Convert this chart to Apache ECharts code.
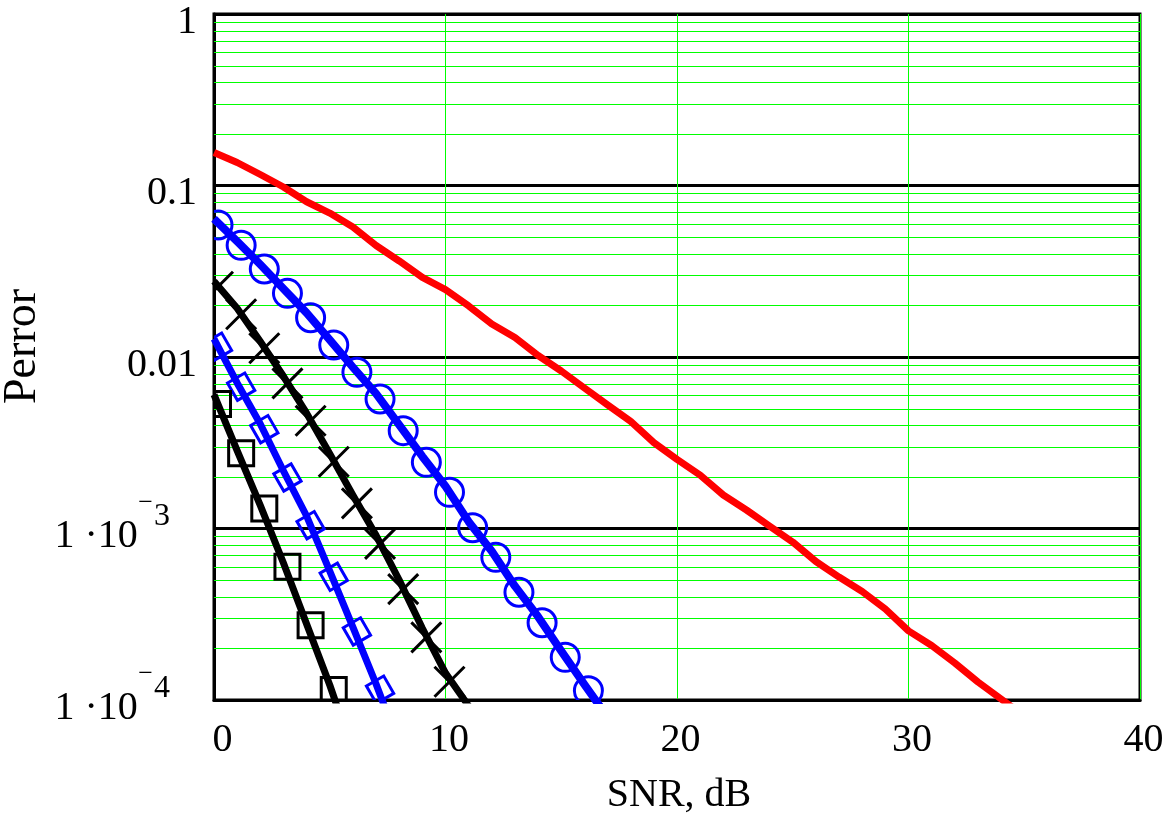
<!DOCTYPE html>
<html>
<head>
<meta charset="utf-8">
<script src="https://cdn.jsdelivr.net/npm/echarts@6/dist/echarts.min.js"></script>
<style>
  html, body { margin: 0; padding: 0; background: #ffffff; }
  #chart { width: 1170px; height: 821px; }
</style>
</head>
<body>
<div id="chart"></div>
<script>
// ---- data -------------------------------------------------------------
// Red curve (no markers)
const snrRed = [0, 1, 2, 3, 4, 5, 6, 7, 8, 9, 10, 11, 12, 13, 14, 15, 16, 17, 18, 19, 20,
  21, 22, 23, 24, 25, 26, 27, 28, 29, 30, 31, 32, 33, 34, 35];
const perrRed = [0.1558, 0.1362, 0.1159, 0.0980, 0.0804, 0.0691, 0.0573, 0.0447, 0.0363, 0.0291,
  0.0247, 0.01984, 0.01558, 0.01299, 0.01020, 0.00829, 0.00660, 0.00526, 0.00421, 0.00317,
  0.00253, 0.00205, 0.001568, 0.001282, 0.001034, 0.000834, 0.000642, 0.000521, 0.000429,
  0.000339, 0.000253, 0.000208, 0.0001643, 0.0001274, 0.0001013, 0.0000807];

// Blue curve with circles
const snrCircleLine = [0, 1, 2, 3, 4, 5, 6, 7, 8, 9, 10, 11, 12, 13, 14, 15, 16, 17];
const perrCircleLine = [0.0638, 0.0473, 0.0346, 0.0250, 0.01808, 0.01258, 0.00871, 0.00612, 0.00402,
  0.00263, 0.001764, 0.001096, 0.000736, 0.000461, 0.000306, 0.000193, 0.0001231, 0.0000796];
const snrCircle = [0, 1, 2, 3, 4, 5, 6, 7, 8, 9, 10, 11, 12, 13, 14, 15, 16];
const perrCircle = [0.0589, 0.0448, 0.0326, 0.0235, 0.01695, 0.01175, 0.00814, 0.00569, 0.00372,
  0.00243, 0.001626, 0.001011, 0.000679, 0.000425, 0.000282, 0.0001774, 0.0001133];

// Black curve with crosses
const snrCrossLine = [0, 1, 2, 3, 4, 5, 6, 7, 8, 9, 10, 11];
const perrCrossLine = [0.02763, 0.01923, 0.01230, 0.007718, 0.004702, 0.002730, 0.001562,
  0.000912, 0.000500, 0.000262, 0.0001435, 0.0000923];
const snrCross = [0, 1, 2, 3, 4, 5, 6, 7, 8, 9, 10];
const perrCross = [0.0257, 0.01774, 0.01124, 0.00702, 0.004246, 0.002452, 0.001402, 0.000814,
  0.000443, 0.000232, 0.0001278];

// Blue curve with diamonds
const snrDiamondLine = [0, 1, 2, 3, 4, 5, 6, 7, 8];
const perrDiamondLine = [0.01274, 0.007054, 0.004067, 0.002164, 0.001183, 0.000565, 0.000266,
  0.000124, 0.0000546];
const snrDiamond = [0, 1, 2, 3, 4, 5, 6, 7];
const perrDiamond = [0.01148, 0.006711, 0.003793, 0.001983, 0.001045, 0.000523, 0.000251, 0.0001148];

// Black curve with squares
const snrSquareLine = [0, 1, 2, 3, 4, 5, 6];
const perrSquareLine = [0.006030, 0.002842, 0.001366, 0.000629, 0.000277, 0.0001223, 0.0000497];
const snrSquare = [0, 1, 2, 3, 4, 5];
const perrSquare = [0.005320, 0.002749, 0.001308, 0.000599, 0.000273, 0.0001144];

// Axis ticks
const xTicks = [0, 10, 20, 30, 40];
const xTickLabels = ['0', '10', '20', '30', '40'];
const yTickExponents = [0, -1, -2, -3, -4];
const yTickLabels = ['1', '0.1', '0.01', '1 ·10^−3', '1 ·10^−4'];
// minor grid: mantissas 2..9 in every decade
const minorMantissas = [2, 3, 4, 5, 6, 7, 8, 9];
const minorDecades = [-4, -3, -2, -1];

// ---- helpers ----------------------------------------------------------
const FONT = '"Liberation Serif", "Times New Roman", serif';
const zip = (xs, ys) => xs.map((x, i) => [x, ys[i]]);
const minorValues = [];
minorDecades.forEach(e => minorMantissas.forEach(m => minorValues.push(m * Math.pow(10, e))));
const xMin = xTicks[0], xMax = xTicks[xTicks.length - 1];
const MARK_SHIFT = 4; // markers sit a few pixels right of their SNR

function lineSeries(xs, ys, color, width) {
  return {
    type: 'line',
    data: zip(xs, ys),
    symbol: 'none', showSymbol: false,
    lineStyle: { color: color, width: width, cap: 'butt', join: 'round' },
    clip: true, silent: true, z: 2
  };
}

// open markers drawn as shapes, clipped to the plot frame
function markerSeries(xs, ys, kind, size, color) {
  return {
    type: 'custom',
    data: zip(xs, ys),
    encode: { x: 0, y: 1 },
    clip: true, silent: true, z: 3,
    renderItem: (params, api) => {
      const p = api.coord([api.value(0), api.value(1)]);
      const cx = p[0] + MARK_SHIFT, cy = p[1], h = size / 2;
      const style = { fill: 'none', stroke: color, lineWidth: 3 };
      if (kind === 'circle') {
        return { type: 'circle', shape: { cx: cx, cy: cy, r: h }, style: style };
      }
      if (kind === 'square') {
        return { type: 'rect', shape: { x: cx - h, y: cy - h, width: size, height: size }, style: style };
      }
      if (kind === 'diamond') {
        return {
          type: 'rect', shape: { x: cx - h, y: cy - h, width: size, height: size },
          rotation: Math.PI / 6, originX: cx, originY: cy, style: style
        };
      }
      return {
        type: 'path',
        shape: { pathData: 'M' + (cx - h) + ',' + (cy - h) + 'L' + (cx + h) + ',' + (cy + h) +
                           'M' + (cx + h) + ',' + (cy - h) + 'L' + (cx - h) + ',' + (cy + h) },
        style: style
      };
    }
  };
}

const chart = echarts.init(document.getElementById('chart'), null, { renderer: 'canvas' });

const option = {
  animation: false,
  backgroundColor: '#ffffff',
  grid: {
    left: 214, right: 30, top: 14, bottom: 121,
    show: true, borderColor: '#000000', borderWidth: 3, backgroundColor: '#ffffff',
    containLabel: false, outerBoundsMode: 'none'
  },
  xAxis: {
    type: 'value', min: xMin, max: xMax, interval: 10, position: 'bottom',
    axisLine: { show: true, onZero: false, lineStyle: { color: '#000000', width: 3 } },
    axisTick: { show: false },
    splitLine: { show: true, lineStyle: { color: '#00ff00', width: 1 } },
    minorSplitLine: { show: false },
    axisLabel: {
      show: true, margin: 20,
      formatter: v => {
        const t = xTickLabels[xTicks.indexOf(Math.round(v))];
        return v === 0 ? '{z|' + t + '}' : '{n|' + t + '}';
      },
      rich: {
        z: { fontSize: 40, lineHeight: 40, fontFamily: FONT, color: '#000', padding: [0, 0, 0, 17] },
        n: { fontSize: 40, lineHeight: 40, fontFamily: FONT, color: '#000', padding: [0, 0, 0, 7] }
      }
    },
    name: 'SNR, dB', nameLocation: 'middle', nameGap: 75, nameMoveOverlap: false,
    nameTextStyle: { fontSize: 40, lineHeight: 40, fontFamily: FONT, color: '#000', padding: [0, 0, 0, 4] }
  },
  yAxis: {
    type: 'log', logBase: 10, min: 0.0001, max: 1, splitNumber: 4, position: 'left',
    axisLine: { show: true, onZero: false, lineStyle: { color: '#000000', width: 3 } },
    axisTick: { show: false },
    splitLine: { show: true, lineStyle: { color: '#000000', width: 3 } },
    minorSplitLine: { show: false },
    axisLabel: {
      show: true, margin: 17, padding: [16, 0, 0, 0],
      formatter: v => {
        const e = Math.round(Math.log10(v));
        const t = yTickLabels[yTickExponents.indexOf(e)];
        if (t.indexOf('^') >= 0) {
          const parts = t.split('^');
          return '{b|' + parts[0] + '}{m|' + parts[1].charAt(0) + '}{s|' + parts[1].slice(1) + '}';
        }
        return '{d|' + t + '}';
      },
      rich: {
        d: { fontSize: 40, lineHeight: 40, fontFamily: FONT, color: '#000' },
        b: { fontSize: 40, lineHeight: 99, fontFamily: FONT, color: '#000' },
        m: { fontSize: 26, verticalAlign: 'top', fontFamily: FONT, color: '#000', padding: [3, 0, 0, 0.5] },
        s: { fontSize: 32, verticalAlign: 'top', fontFamily: FONT, color: '#000', padding: [14, 27, 0, 1] }
      }
    },
    name: 'Perror', nameLocation: 'middle', nameRotate: 90, nameGap: 168, nameMoveOverlap: false,
    nameTextStyle: { fontSize: 46, lineHeight: 46, fontFamily: FONT, color: '#000', padding: [0, 0, 0, 21] }
  },
  series: [
    { // minor horizontal grid lines (2..9 of each decade)
      type: 'custom', silent: true, z: 1, clip: false,
      data: minorValues.map(v => [xMin, v]),
      encode: { x: 0, y: 1 },
      renderItem: (params, api) => {
        const v = api.value(1);
        const p1 = api.coord([xMin, v]);
        const p2 = api.coord([xMax, v]);
        const y = Math.round(p1[1]) + 0.5;
        return {
          type: 'line',
          shape: { x1: p1[0], y1: y, x2: p2[0], y2: y },
          style: { stroke: '#00ff00', lineWidth: 1 }
        };
      }
    },
    lineSeries(snrRed, perrRed, '#ff0000', 7),
    lineSeries(snrCircleLine, perrCircleLine, '#0000ff', 8),
    lineSeries(snrCrossLine, perrCrossLine, '#000000', 7),
    lineSeries(snrDiamondLine, perrDiamondLine, '#0000ff', 7),
    lineSeries(snrSquareLine, perrSquareLine, '#000000', 7),
    markerSeries(snrCircle, perrCircle, 'circle', 28, '#0000ff'),
    markerSeries(snrCross, perrCross, 'cross', 30, '#000000'),
    markerSeries(snrDiamond, perrDiamond, 'diamond', 20, '#0000ff'),
    markerSeries(snrSquare, perrSquare, 'square', 25, '#000000')
  ]
};

chart.setOption(option);
</script>
</body>
</html>
